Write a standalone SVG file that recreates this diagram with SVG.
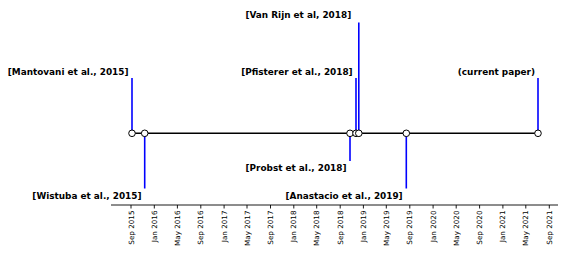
<svg xmlns="http://www.w3.org/2000/svg" width="565" height="254" viewBox="0 0 565 254">
<style>
.lbl{font-family:"DejaVu Sans","Liberation Sans",sans-serif;font-weight:bold;font-size:8.9px;fill:#000;text-anchor:end}
.tk{font-family:"DejaVu Sans","Liberation Sans",sans-serif;font-size:7.2px;fill:#000;text-anchor:end}
.stem{stroke:#0000ff;stroke-width:1.6;fill:none}
.dot{fill:#fff;stroke:#000;stroke-width:1}
.ax{stroke:#000;stroke-width:0.9;fill:none}
</style>
<rect width="565" height="254" fill="#fff"/>
<g id="connectors">
<line class="stem" x1="132" y1="78" x2="132" y2="133.3"/>
<line class="stem" x1="144.7" y1="133.3" x2="144.7" y2="188.5"/>
<line class="stem" x1="350" y1="133.3" x2="350" y2="161"/>
<line class="stem" x1="356" y1="78" x2="356" y2="133.3"/>
<line class="stem" x1="358.8" y1="22.5" x2="358.8" y2="133.3"/>
<line class="stem" x1="406.3" y1="133.3" x2="406.3" y2="188.5"/>
<line class="stem" x1="538" y1="78" x2="538" y2="133.3"/>
<line x1="132" y1="133.3" x2="538" y2="133.3" stroke="#000" stroke-width="1.5"/>
</g>
<g id="n-mantovani"><circle class="dot" cx="132" cy="133.3" r="3.3"/><text class="lbl" x="128.5" y="75">[Mantovani et al., 2015]</text></g>
<g id="n-wistuba"><circle class="dot" cx="144.7" cy="133.3" r="3.3"/><text class="lbl" x="141.5" y="199">[Wistuba et al., 2015]</text></g>
<g id="n-probst"><circle class="dot" cx="350" cy="133.3" r="3.3"/><text class="lbl" x="346.5" y="171">[Probst et al., 2018]</text></g>
<g id="n-pfisterer"><circle class="dot" cx="356" cy="133.3" r="3.3"/><text class="lbl" x="352.7" y="75">[Pfisterer et al., 2018]</text></g>
<g id="n-vanrijn"><circle class="dot" cx="358.8" cy="133.3" r="3.3"/><text class="lbl" x="351.2" y="18">[Van Rijn et al, 2018]</text></g>
<g id="n-anastacio"><circle class="dot" cx="406.3" cy="133.3" r="3.3"/><text class="lbl" x="402.7" y="199">[Anastacio et al., 2019]</text></g>
<g id="n-current"><circle class="dot" cx="538" cy="133.3" r="3.3"/><text class="lbl" x="535" y="75">(current paper)</text></g>
<g id="axis">
<line class="ax" x1="111" y1="205" x2="558" y2="205"/>
<path class="ax" d="M131,205v3.5M154.3,205v3.5M177.4,205v3.5M200.8,205v3.5M224.1,205v3.5M247,205v3.5M270.5,205v3.5M293.8,205v3.5M316.7,205v3.5M340.2,205v3.5M363.4,205v3.5M386.3,205v3.5M409.8,205v3.5M433.1,205v3.5M456.2,205v3.5M479.6,205v3.5M502.9,205v3.5M525.8,205v3.5M549.3,205v3.5"/>
<text class="tk" transform="translate(133.5,210.5) rotate(-90)">Sep 2015</text>
<text class="tk" transform="translate(156.8,210.5) rotate(-90)">Jan 2016</text>
<text class="tk" transform="translate(179.9,210.5) rotate(-90)">May 2016</text>
<text class="tk" transform="translate(203.3,210.5) rotate(-90)">Sep 2016</text>
<text class="tk" transform="translate(226.6,210.5) rotate(-90)">Jan 2017</text>
<text class="tk" transform="translate(249.5,210.5) rotate(-90)">May 2017</text>
<text class="tk" transform="translate(273,210.5) rotate(-90)">Sep 2017</text>
<text class="tk" transform="translate(296.3,210.5) rotate(-90)">Jan 2018</text>
<text class="tk" transform="translate(319.2,210.5) rotate(-90)">May 2018</text>
<text class="tk" transform="translate(342.7,210.5) rotate(-90)">Sep 2018</text>
<text class="tk" transform="translate(365.9,210.5) rotate(-90)">Jan 2019</text>
<text class="tk" transform="translate(388.8,210.5) rotate(-90)">May 2019</text>
<text class="tk" transform="translate(412.3,210.5) rotate(-90)">Sep 2019</text>
<text class="tk" transform="translate(435.6,210.5) rotate(-90)">Jan 2020</text>
<text class="tk" transform="translate(458.7,210.5) rotate(-90)">May 2020</text>
<text class="tk" transform="translate(482.1,210.5) rotate(-90)">Sep 2020</text>
<text class="tk" transform="translate(505.4,210.5) rotate(-90)">Jan 2021</text>
<text class="tk" transform="translate(528.3,210.5) rotate(-90)">May 2021</text>
<text class="tk" transform="translate(551.8,210.5) rotate(-90)">Sep 2021</text>
</g>
</svg>
